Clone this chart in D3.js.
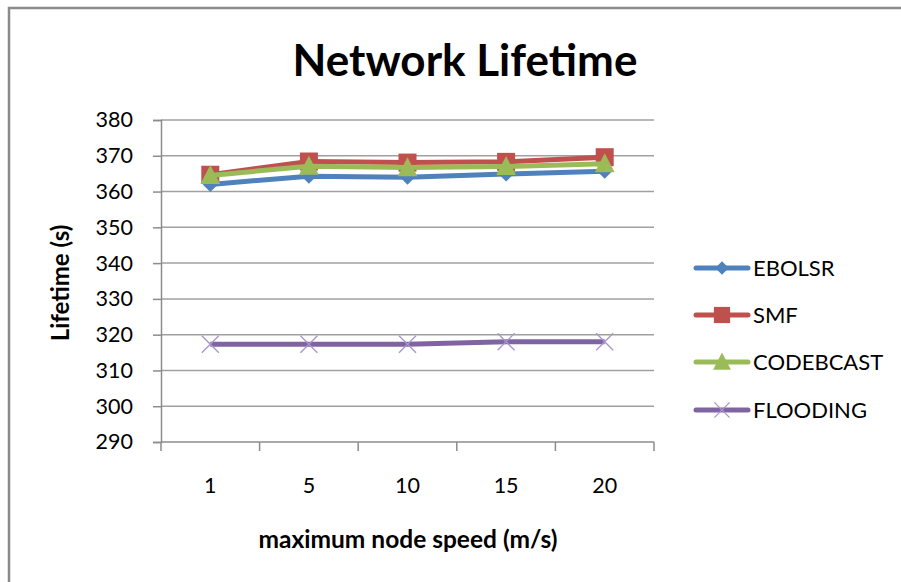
<!DOCTYPE html>
<html>
<head>
<meta charset="utf-8">
<script src="https://cdn.jsdelivr.net/npm/d3@7"></script>
<style>
  html, body { margin: 0; padding: 0; background: #fff; }
  svg { display: block; }
  text { font-family: Lato, "Open Sans", sans-serif; fill: #000; }
</style>
</head>
<body>
<svg id="chart" width="901" height="582"></svg>
<script>
// Maximum node speed categories (m/s)
const speeds = ["1", "5", "10", "15", "20"];

// Network lifetime (s) per protocol
const ebolsr    = [362.0, 364.3, 364.0, 364.9, 365.7];
const smf       = [364.7, 368.4, 368.1, 368.3, 369.6];
const codebcast = [364.5, 367.1, 366.7, 367.0, 367.8];
const flooding  = [317.3, 317.3, 317.3, 318.0, 318.0];

const seriesNames = ["EBOLSR", "SMF", "CODEBCAST", "FLOODING"];
const yTicks = [290, 300, 310, 320, 330, 340, 350, 360, 370, 380];

const series = [
  { name: seriesNames[0], values: ebolsr,    color: "#4F81BD", marker: "diamond" },
  { name: seriesNames[1], values: smf,       color: "#C0504D", marker: "square" },
  { name: seriesNames[2], values: codebcast, color: "#9BBB59", marker: "triangle" },
  { name: seriesNames[3], values: flooding,  color: "#8064A2", marker: "cross" }
];

const svg = d3.select("#chart");
const plot = { left: 161, right: 654, top: 120, bottom: 442 };

const x = d3.scaleBand().domain(speeds).range([plot.left, plot.right]).padding(0);
const y = d3.scaleLinear().domain([290, 380]).range([plot.bottom, plot.top]);
const cx = d => x(d) + x.bandwidth() / 2;

// outer frame (left and top edges)
svg.append("path")
  .attr("d", "M9,582 V8 H901")
  .attr("fill", "none").attr("stroke", "#8a8a8a").attr("stroke-width", 2.5);

// title
svg.append("text")
  .attr("x", 465).attr("y", 76)
  .attr("text-anchor", "middle")
  .style("font-size", "44px").style("font-weight", 700)
  .text("Network Lifetime");

// horizontal gridlines
svg.append("g").selectAll("line")
  .data(yTicks.filter(t => t !== 290))
  .join("line")
  .attr("x1", plot.left).attr("x2", plot.right)
  .attr("y1", d => y(d)).attr("y2", d => y(d))
  .attr("stroke", "#a0a0a0").attr("stroke-width", 1.5);

// y axis
const yAxis = svg.append("g")
  .attr("transform", `translate(${plot.left},0)`)
  .call(d3.axisLeft(y).tickValues(yTicks).tickSize(8).tickPadding(20).tickFormat(d3.format("d")));
yAxis.select(".domain").attr("stroke", "#8c8c8c").attr("stroke-width", 1.5);
yAxis.selectAll(".tick line").attr("stroke", "#8c8c8c").attr("stroke-width", 1.5);
yAxis.selectAll(".tick text")
  .style("font-size", "21.5px").style("font-family", "Lato, sans-serif").attr("fill", "#000");

// x axis: labels centred in each category, tick marks between categories
const xAxis = svg.append("g")
  .attr("transform", `translate(0,${plot.bottom})`)
  .call(d3.axisBottom(x).tickSize(0).tickPadding(36));
xAxis.select(".domain").remove();
xAxis.selectAll(".tick text")
  .style("font-size", "21.5px").style("font-family", "Lato, sans-serif").attr("fill", "#000");
svg.append("line")
  .attr("x1", plot.left).attr("x2", plot.right)
  .attr("y1", plot.bottom).attr("y2", plot.bottom)
  .attr("stroke", "#8c8c8c").attr("stroke-width", 1.5);
const bounds = speeds.map(s => x(s)).concat([x(speeds[speeds.length - 1]) + x.bandwidth()]);
svg.append("g").selectAll("line")
  .data(bounds)
  .join("line")
  .attr("x1", d => d).attr("x2", d => d)
  .attr("y1", plot.bottom).attr("y2", plot.bottom + 9)
  .attr("stroke", "#8c8c8c").attr("stroke-width", 1.5);

// axis titles
svg.append("text")
  .attr("x", 408).attr("y", 548)
  .attr("text-anchor", "middle")
  .style("font-size", "24.5px").style("font-weight", 700)
  .text("maximum node speed (m/s)");
svg.append("text")
  .attr("transform", "translate(69,283) rotate(-90)")
  .attr("text-anchor", "middle")
  .style("font-size", "24px").style("font-weight", 700)
  .text("Lifetime (s)");

// marker shapes
function drawMarker(g, type, color, size) {
  if (type === "diamond") {
    g.append("path").attr("d", d3.symbol(d3.symbolDiamond2, size * size * 0.5)())
      .attr("fill", color);
  } else if (type === "square") {
    g.append("rect").attr("x", -size / 2).attr("y", -size / 2)
      .attr("width", size).attr("height", size).attr("fill", color);
  } else if (type === "triangle") {
    const h = size;
    g.append("path")
      .attr("d", `M0,${-h * 0.55} L${size * 0.52},${h * 0.45} L${-size * 0.52},${h * 0.45} Z`)
      .attr("fill", color);
  } else if (type === "cross") {
    const r = size / 2;
    g.append("path")
      .attr("d", `M${-r},${-r} L${r},${r} M${-r},${r} L${r},${-r}`)
      .attr("stroke", "#a995c9").attr("stroke-width", 1.3).attr("fill", "none");
  }
}

const markerSize = { diamond: 17, square: 18, triangle: 19, cross: 17 };

const line = d3.line().x(d => cx(d.s)).y(d => y(d.v));

series.forEach(sr => {
  const pts = speeds.map((s, i) => ({ s, v: sr.values[i] }));
  const g = svg.append("g");
  g.append("path")
    .datum(pts)
    .attr("d", line)
    .attr("fill", "none")
    .attr("stroke", sr.color)
    .attr("stroke-width", 5)
    .attr("stroke-linejoin", "round");
  pts.forEach(p => {
    const m = g.append("g").attr("transform", `translate(${cx(p.s)},${y(p.v)})`);
    drawMarker(m, sr.marker, sr.color, markerSize[sr.marker]);
  });
});

// legend
const legendY = [268, 315, 362, 410];
const legend = svg.append("g");
series.forEach((sr, i) => {
  const g = legend.append("g").attr("transform", `translate(0,${legendY[i]})`);
  g.append("line")
    .attr("x1", 696).attr("x2", 748).attr("y1", 0).attr("y2", 0)
    .attr("stroke", sr.color).attr("stroke-width", 5).attr("stroke-linecap", "round");
  const m = g.append("g").attr("transform", "translate(722,0)");
  drawMarker(m, sr.marker, sr.color, markerSize[sr.marker] * 0.9);
  g.append("text")
    .attr("x", 753).attr("y", 0).attr("dy", "0.36em")
    .style("font-size", "22px")
    .text(sr.name);
});
</script>
</body>
</html>
